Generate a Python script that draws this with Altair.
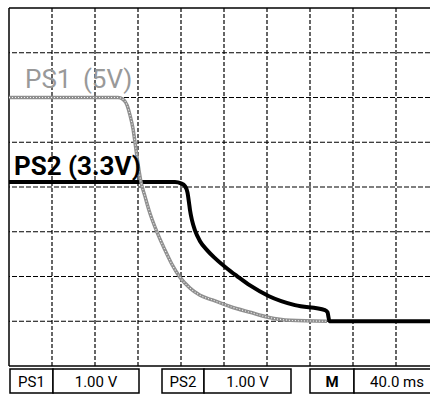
import altair as alt
import pandas as pd

# ---- data (time in ms, voltage in V) ----
ps1_t = [0, 101.4, 106.0, 109.8, 112.6, 115.3, 117.2, 119.5, 122.8, 126.5, 130.2,
         137.7, 145.1, 151.6, 159.1, 168.4, 177.7, 189.8, 205.6, 224.2, 240.9, 261.4, 295.8]
ps1_v = [5.0, 5.0, 4.96, 4.83, 4.60, 4.31, 4.0, 3.60, 3.11, 2.79, 2.48,
         1.99, 1.59, 1.27, 0.98, 0.74, 0.58, 0.47, 0.33, 0.20, 0.09, 0.02, 0.0]

ps2_t = [0, 154.4, 160.0, 163.7, 166.0, 167.4, 168.4, 170.2, 173.0, 177.7, 184.2,
         191.6, 202.8, 212.1, 224.2, 241.9, 266.0, 294.0, 296.3, 298.1, 391.6]
ps2_v = [3.11, 3.11, 3.08, 3.02, 2.88, 2.66, 2.48, 2.26, 2.03, 1.79, 1.59,
         1.41, 1.18, 1.01, 0.80, 0.56, 0.36, 0.25, 0.20, 0.0, 0.0]

x_grid = [40, 80, 120, 160, 200, 240, 280, 320, 360]
y_grid = [0, 1, 2, 3, 4, 5, 6]

label_ps1 = ["PS1", "(5V)"]
label_ps2 = ["PS2", "(3.3V)"]
status_labels = ["PS1", "1.00 V", "PS2", "1.00 V", "M", "40.0 ms"]

# ---- layout ----
W, H = 421, 358
X_MAX = 421 * 40 / 43
xs = alt.Scale(domain=[0, X_MAX], nice=False, zero=False)
ys = alt.Scale(domain=[-1, 7], nice=False, zero=False)
FONT = "Roboto"

df1 = pd.DataFrame({"t": ps1_t, "v": ps1_v})
df2 = pd.DataFrame({"t": ps2_t, "v": ps2_v})

X = lambda: alt.X("t:Q", scale=xs, axis=None)
Y = lambda: alt.Y("v:Q", scale=ys, axis=None)

vgrid = alt.Chart(pd.DataFrame({"t": x_grid})).mark_rule(
    color="black", strokeDash=[4, 2], strokeWidth=1.2
).encode(x=X())

hgrid = alt.Chart(pd.DataFrame({"v": y_grid})).mark_rule(
    color="black", strokeDash=[5, 2], strokeWidth=1.2
).encode(y=Y())

frame_left = alt.Chart(pd.DataFrame({"t": [0]})).mark_rule(
    color="black", strokeWidth=1.5).encode(x=X())
frame_tb = alt.Chart(pd.DataFrame({"v": [7, -1]})).mark_rule(
    color="black", strokeWidth=1.5).encode(y=Y())

ps2_line = alt.Chart(df2).mark_line(
    color="black", strokeWidth=4, interpolate="monotone", strokeJoin="round"
).encode(x=X(), y=Y())

ps1_line = alt.Chart(df1).mark_line(
    color="#8f8f8f", strokeWidth=3.5, interpolate="monotone"
).encode(x=X(), y=Y())
ps1_tex = alt.Chart(df1).mark_line(
    color="white", strokeWidth=1.1, strokeDash=[1, 2], opacity=0.9, interpolate="monotone"
).encode(x=X(), y=Y())

def label(txt, t, v, color, weight, size):
    return alt.Chart(pd.DataFrame({"s": [txt], "t": [t], "v": [v]})).mark_text(
        align="left", baseline="alphabetic", font=FONT, fontSize=size,
        fontWeight=weight, color=color
    ).encode(x=X(), y=Y(), text="s:N")

texts = [
    label(label_ps1[0], 14.9, 5.21, "#999999", "normal", 26),
    label(label_ps1[1], 68.8, 5.21, "#999999", "normal", 26),
    label(label_ps2[0], 4.6, 3.26, "black", "bold", 26),
    label(label_ps2[1], 54.9, 3.26, "black", "bold", 26),
]

box_px = [(1, 44), (44, 130), (153, 195), (195, 282), (301, 345), (345, 432)]
text_cx = [22.5, 87, 174, 238.5, 323, 388]
status = []
for (x0, x1), cx, s in zip(box_px, text_cx, status_labels):
    d = pd.DataFrame({"s": [s]})
    status.append(alt.Chart(d).mark_rect(
        fill="white", stroke="black", strokeWidth=1.5
    ).encode(x=alt.value(x0), x2=alt.value(x1), y=alt.value(361), y2=alt.value(385)))
    status.append(alt.Chart(d).mark_text(
        align="center", baseline="middle", font=FONT, fontSize=15, color="black",
        fontWeight="bold" if s == "M" else "normal"
    ).encode(x=alt.value(cx), y=alt.value(374), text="s:N"))

chart = alt.layer(
    vgrid, hgrid, frame_left, frame_tb,
    ps2_line, ps1_line, ps1_tex, *texts, *status
).properties(
    width=W, height=H,
    padding={"left": 9, "top": 8, "right": 0, "bottom": 29},
    autosize=alt.AutoSizeParams(type="none"),
    background="white",
).configure_view(stroke=None)

chart.save("out.html", embed_options={"renderer": "svg", "actions": False})
